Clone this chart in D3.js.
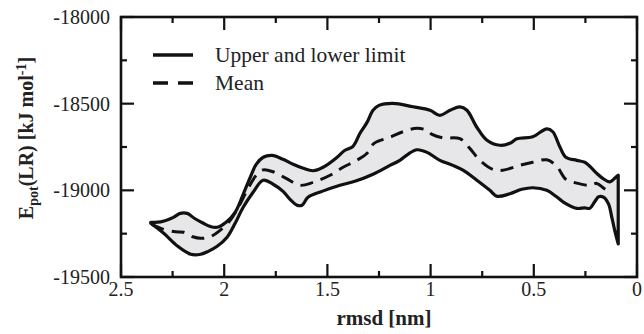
<!DOCTYPE html>
<html><head><meta charset="utf-8">
<script src="https://cdn.jsdelivr.net/npm/d3@7"></script>
</head><body style="margin:0;background:#fff">
<svg id="c" width="644" height="334" style="display:block"></svg>
<script>
// Upper limit [rmsd nm, Epot kJ/mol]
const upperRmsd = [2.356,2.308,2.246,2.213,2.179,2.145,2.101,2.068,2.034,1.991,1.947,1.908,1.874,1.845,1.811,1.768,1.715,1.666,1.617,1.569,1.521,1.453,1.415,1.376,1.342,1.308,1.279,1.250,1.182,1.085,1.003,0.955,0.906,0.858,0.824,0.776,0.727,0.664,0.616,0.582,0.505,0.437,0.408,0.374,0.345,0.292,0.253,0.229,0.195,0.166,0.132,0.098,0.091];
const upperE = [-19184,-19182,-19156,-19133,-19133,-19161,-19190,-19208,-19213,-19184,-19127,-19023,-18925,-18850,-18809,-18798,-18821,-18850,-18873,-18887,-18867,-18809,-18769,-18746,-18671,-18608,-18538,-18510,-18498,-18518,-18538,-18567,-18538,-18518,-18538,-18636,-18711,-18740,-18729,-18703,-18691,-18645,-18662,-18749,-18809,-18827,-18838,-18861,-18902,-18931,-18951,-18919,-18913];
// Lower limit
const lowerRmsd = [2.356,2.293,2.225,2.162,2.114,2.077,2.034,1.986,1.947,1.908,1.860,1.811,1.763,1.715,1.681,1.647,1.623,1.594,1.526,1.439,1.367,1.279,1.197,1.149,1.110,1.066,1.017,0.955,0.892,0.843,0.776,0.713,0.679,0.616,0.558,0.505,0.437,0.393,0.355,0.292,0.253,0.229,0.205,0.186,0.161,0.137,0.123,0.108,0.091];
const lowerE = [-19190,-19248,-19323,-19369,-19369,-19352,-19323,-19271,-19190,-19098,-19011,-18942,-18965,-19006,-19052,-19086,-19086,-19040,-19006,-18971,-18948,-18907,-18856,-18827,-18792,-18766,-18781,-18827,-18856,-18884,-18942,-19000,-19034,-19020,-18994,-18985,-19000,-19034,-19069,-19104,-19101,-19104,-19066,-19037,-19040,-19081,-19150,-19231,-19309];
// Mean
const meanRmsd = [2.351,2.293,2.235,2.196,2.152,2.114,2.068,2.020,1.971,1.932,1.889,1.845,1.811,1.763,1.700,1.632,1.569,1.487,1.424,1.367,1.308,1.274,1.197,1.134,1.066,1.017,0.993,0.940,0.858,0.810,0.761,0.698,0.650,0.568,0.505,0.437,0.389,0.345,0.297,0.229,0.195,0.161,0.132];
const meanE = [-19196,-19225,-19239,-19242,-19268,-19277,-19268,-19231,-19173,-19098,-19000,-18913,-18882,-18893,-18931,-18971,-18954,-18913,-18867,-18833,-18786,-18729,-18694,-18662,-18642,-18654,-18677,-18697,-18702,-18758,-18827,-18879,-18884,-18856,-18838,-18824,-18861,-18936,-18957,-18971,-18960,-18988,-19011];

const xTicks = [2.5,2,1.5,1,0.5,0];
const xTickLabels = ["2.5","2","1.5","1","0.5","0"];
const yTicks = [-19500,-19000,-18500,-18000];
const yTickLabels = ["-19500","-19000","-18500","-18000"];
const legendLabels = ["Upper and lower limit","Mean"];

const svg = d3.select("#c");
const L=121,R=637,T=17,B=277;
const x = d3.scaleLinear().domain([2.5,0]).range([L,R]);
const y = d3.scaleLinear().domain([-19500,-18000]).range([B,T]);

const up = upperRmsd.map((r,i)=>[r,upperE[i]]);
const lo = lowerRmsd.map((r,i)=>[r,lowerE[i]]);
const mn = meanRmsd.map((r,i)=>[r,meanE[i]]);

const line = d3.line().x(d=>x(d[0])).y(d=>y(d[1])).curve(d3.curveCatmullRom.alpha(0.5));
svg.append("path").attr("d", line(up) + line(lo.slice().reverse()).replace(/^M/,"L") + "Z")
  .attr("fill","#e7e7e9").attr("stroke","#111").attr("stroke-width",3.2).attr("stroke-linejoin","round");
svg.append("path").attr("d", line(mn)).attr("fill","none").attr("stroke","#111")
  .attr("stroke-width",3).attr("stroke-dasharray","13,8");

const minorX = d3.range(0,2.51,0.25), minorY = d3.range(-19500,-17999,250);
const ax = svg.append("g").attr("stroke","#111");
ax.append("rect").attr("x",L).attr("y",T).attr("width",R-L).attr("height",B-T).attr("fill","none").attr("stroke-width",2.6);
minorX.forEach(v=>{
  const major = xTicks.includes(v); const len = major?13:6;
  ax.append("line").attr("x1",x(v)).attr("x2",x(v)).attr("y1",B).attr("y2",B-len).attr("stroke-width",2.2);
  ax.append("line").attr("x1",x(v)).attr("x2",x(v)).attr("y1",T).attr("y2",T+len).attr("stroke-width",2.2);
});
minorY.forEach(v=>{
  const major = yTicks.includes(v); const len = major?13:6;
  ax.append("line").attr("y1",y(v)).attr("y2",y(v)).attr("x1",L).attr("x2",L+len).attr("stroke-width",2.2);
  ax.append("line").attr("y1",y(v)).attr("y2",y(v)).attr("x1",R).attr("x2",R-len).attr("stroke-width",2.2);
});
function txt(){ return svg.append("text").attr("font-family","Times New Roman")
  .style("font-family","'Times New Roman', 'Liberation Serif', Tinos, serif").attr("fill","#222"); }
xTicks.forEach((v,i)=>{
  txt().attr("x",x(v)).attr("y",296).attr("text-anchor","middle").attr("font-size",20).text(xTickLabels[i]);
});
yTicks.forEach((v,i)=>{
  txt().attr("x",110).attr("y",y(v)+7).attr("text-anchor","end").attr("font-size",20).text(yTickLabels[i]);
});
txt().attr("x",384).attr("y",325).attr("text-anchor","middle").attr("font-size",21).attr("font-weight","bold").text("rmsd [nm]");
const yt = txt().attr("transform","translate(33,138) rotate(-90)").attr("text-anchor","middle").attr("font-size",20).attr("font-weight","bold");
yt.append("tspan").text("E");
yt.append("tspan").attr("font-size",14).attr("dy",5).text("pot");
yt.append("tspan").attr("dy",-5).text("(LR) [kJ mol");
yt.append("tspan").attr("font-size",14).attr("dy",-7).text("-1");
yt.append("tspan").attr("dy",7).text("]");

svg.append("line").attr("x1",153).attr("x2",193).attr("y1",55).attr("y2",55).attr("stroke","#111").attr("stroke-width",3.5);
svg.append("line").attr("x1",153).attr("x2",194).attr("y1",83).attr("y2",83).attr("stroke","#111").attr("stroke-width",3.5).attr("stroke-dasharray","15,10");
txt().attr("x",215).attr("y",62).attr("font-size",21.5).text(legendLabels[0]);
txt().attr("x",215).attr("y",90).attr("font-size",21.5).text(legendLabels[1]);
</script></body></html>
